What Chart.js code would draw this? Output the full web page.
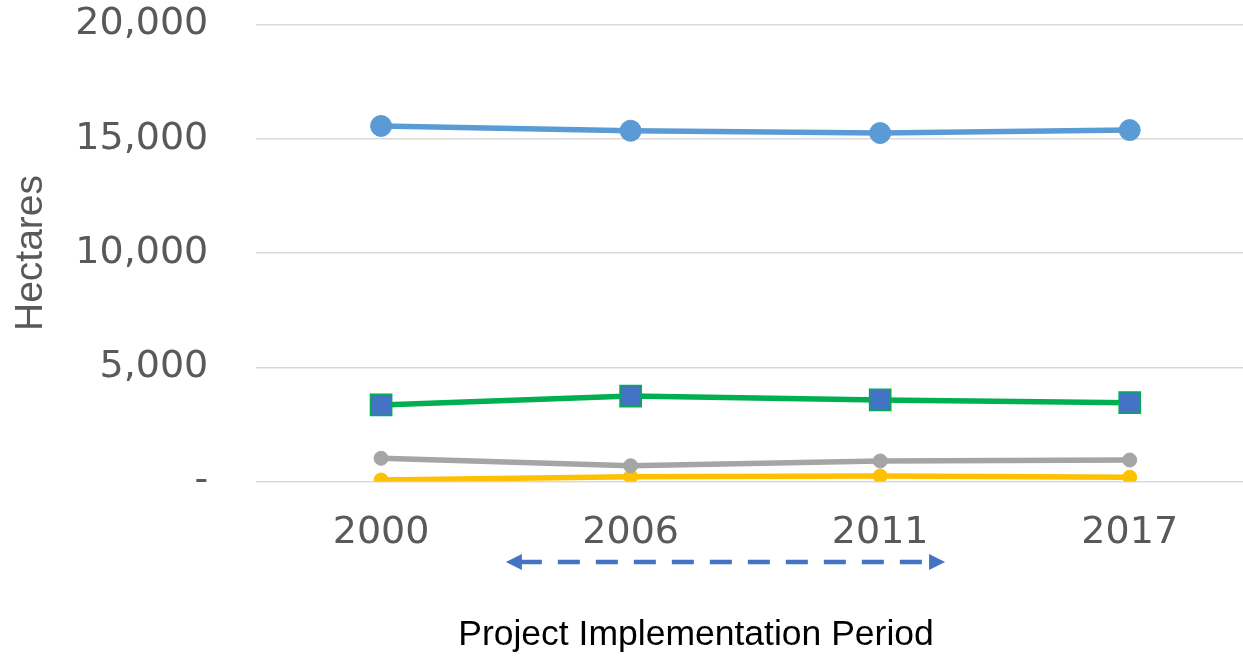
<!DOCTYPE html>
<html>
<head>
<meta charset="utf-8">
<script src="https://cdn.jsdelivr.net/npm/chart.js@4"></script>
<style>
  html, body { margin: 0; padding: 0; background: #ffffff; overflow: hidden; }
  #c { display: block; }
</style>
</head>
<body>
<canvas id="c" width="1271" height="656"></canvas>
<script>
// ---- data ----
const categories = ['2000', '2006', '2011', '2017'];
const seriesBlueCircle = [15560, 15350, 15250, 15380];
const seriesGreenSquare = [3350, 3740, 3570, 3450];
const seriesGray = [1015, 690, 900, 940];
const seriesYellow = [65, 210, 240, 185];
const yTickValues = [0, 5000, 10000, 15000, 20000];
const yTickLabels = ['-', '5,000', '10,000', '15,000', '20,000'];
const xAxisTitle = 'Project Implementation Period';
const yAxisTitle = 'Hectares';
// project implementation period arrow, in category-index units
const projectPeriod = [0.5, 2.26];

const arrowPlugin = {
  id: 'periodArrow',
  afterDraw(chart) {
    const ctx = chart.ctx;
    const xs = chart.scales.x;
    const x1 = xs.getPixelForValue(projectPeriod[0]);
    const x2 = xs.getPixelForValue(projectPeriod[1]);
    const y = chart.chartArea.bottom + 80.5;
    const head = 16, half = 8;
    ctx.save();
    ctx.strokeStyle = '#4472C4';
    ctx.fillStyle = '#4472C4';
    ctx.lineWidth = 4.5;
    ctx.setLineDash([22, 16]);
    ctx.beginPath();
    ctx.moveTo(x1 + head - 2, y);
    ctx.lineTo(x2 - head + 2, y);
    ctx.stroke();
    ctx.setLineDash([]);
    ctx.beginPath();
    ctx.moveTo(x1, y);
    ctx.lineTo(x1 + head, y - half);
    ctx.lineTo(x1 + head, y + half);
    ctx.closePath();
    ctx.fill();
    ctx.beginPath();
    ctx.moveTo(x2, y);
    ctx.lineTo(x2 - head, y - half);
    ctx.lineTo(x2 - head, y + half);
    ctx.closePath();
    ctx.fill();

    // x-axis title (placed like the original, left of the plot centre)
    ctx.fillStyle = '#000000';
    ctx.font = '35.5px "Liberation Sans"';
    ctx.textAlign = 'center';
    ctx.textBaseline = 'middle';
    ctx.fillText(xAxisTitle, chart.chartArea.left + 0.4405 * (chart.chartArea.right - chart.chartArea.left), chart.height - 21);
    ctx.restore();
  }
};

function zeroPadding(scale) {
  scale.paddingTop = 0;
  scale.paddingBottom = 0;
  scale.paddingLeft = 0;
  scale.paddingRight = 0;
}

new Chart(document.getElementById('c'), {
  type: 'line',
  data: {
    labels: categories,
    datasets: [
      {
        data: seriesBlueCircle,
        borderColor: '#5B9BD5', backgroundColor: '#5B9BD5',
        borderWidth: 5.5,
        pointStyle: 'circle', pointRadius: 10.5,
        pointBackgroundColor: '#5B9BD5', pointBorderColor: '#5B9BD5', pointBorderWidth: 1
      },
      {
        data: seriesGreenSquare,
        borderColor: '#00B050', backgroundColor: '#4472C4',
        borderWidth: 5.5,
        pointStyle: 'rect', pointRadius: 15,
        pointBackgroundColor: '#4472C4', pointBorderColor: '#00B050', pointBorderWidth: 1.5
      },
      {
        data: seriesGray,
        borderColor: '#A5A5A5', backgroundColor: '#A5A5A5',
        borderWidth: 5.5,
        pointStyle: 'circle', pointRadius: 7,
        pointBackgroundColor: '#A5A5A5', pointBorderColor: '#A5A5A5', pointBorderWidth: 1
      },
      {
        data: seriesYellow,
        borderColor: '#FFC000', backgroundColor: '#FFC000',
        borderWidth: 5.5,
        pointStyle: 'circle', pointRadius: 7,
        pointBackgroundColor: '#FFC000', pointBorderColor: '#FFC000', pointBorderWidth: 1
      }
    ]
  },
  options: {
    responsive: false,
    animation: false,
    devicePixelRatio: 1,
    layout: { padding: { top: 24.5, left: 0, right: 0, bottom: 0 } },
    plugins: { legend: { display: false }, tooltip: { enabled: false } },
    elements: { line: { tension: 0 } },
    scales: {
      x: {
        type: 'category',
        offset: true,
        grid: { display: false, drawTicks: false },
        border: { display: false },
        ticks: {
          color: '#595959',
          font: { family: 'DejaVu Sans', size: 38 },
          padding: 29,
          maxRotation: 0
        },
        title: { display: false },
        afterFit(scale) { scale.height = 174.5; zeroPadding(scale); }
      },
      y: {
        min: 0, max: 20000,
        afterBuildTicks(scale) { scale.ticks = yTickValues.map(v => ({ value: v })); },
        grid: { color: '#D9D9D9', lineWidth: 1.5, drawTicks: false },
        border: { display: false },
        ticks: {
          color: '#595959',
          font: { family: 'DejaVu Sans', size: 38 },
          padding: 48,
          callback(value) {
            const i = yTickValues.indexOf(value);
            return i >= 0 ? yTickLabels[i] : '';
          }
        },
        title: {
          display: true,
          text: yAxisTitle,
          color: '#595959',
          font: { family: 'Liberation Sans', size: 39 },
          padding: { top: 7.6, bottom: 0 }
        },
        afterFit(scale) { scale.width = 256.3; zeroPadding(scale); }
      }
    }
  },
  plugins: [arrowPlugin]
});
</script>
</body>
</html>
